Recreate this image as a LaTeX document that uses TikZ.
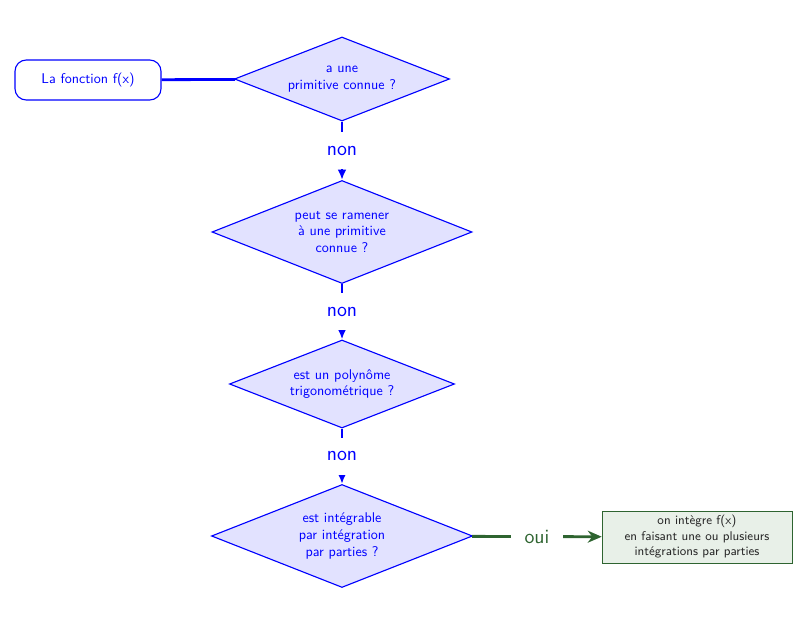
\documentclass[tikz,border=0pt]{standalone}
\usetikzlibrary{shapes.geometric,arrows.meta}
\definecolor{vertfonce}{RGB}{46,100,48}
\definecolor{vertclair}{RGB}{232,240,232}
\definecolor{bleuclair}{RGB}{226,226,255}

\begin{document}
\begin{tikzpicture}[
	debut/.style={draw=blue, thick, rounded corners=0.28cm, text=blue, font=\sffamily, minimum width=3.65cm, minimum height=1cm},
	question/.style={diamond, aspect=2.55, draw=blue, thick, fill=bleuclair, text=blue, font=\sffamily, align=center, inner sep=0pt},
	resultat/.style={draw=vertfonce, fill=vertclair, text=black!85, font=\small\sffamily, align=center, minimum width=4.75cm, minimum height=1.3cm},
	lbl/.style={fill=white, font=\Large\sffamily, inner sep=0.35cm}]
	\useasboundingbox (0,0) rectangle (20,-15.65);

	\node[debut] (fonction) at (2.2,-2) {La fonction f(x)};
	\node[question, minimum width=5.375cm, minimum height=2.1cm] (q1) at (8.55,-1.975) {a une\\ primitive connue ?};
	\node[question, minimum width=6.5cm, minimum height=2.575cm] (q2) at (8.55,-5.8) {peut se ramener\\ à une primitive\\ connue ?};
	\node[question, minimum width=5.625cm, minimum height=2.2cm] (q3) at (8.55,-9.6) {est un polynôme\\ trigonométrique ?};
	\node[question, minimum width=6.525cm, minimum height=2.575cm] (q4) at (8.55,-13.4) {est intégrable\\ par intégration\\ par parties ?};
	\node[resultat] (ipp) at (17.425,-13.425) {on intègre f(x)\\ en faisant une ou plusieurs\\ intégrations par parties};

	\draw[blue, line width=2pt] (fonction) -- (q1);
	\draw[-{Latex[length=2.6mm,width=2.2mm]}, blue, line width=1.6pt] (q1) -- node[lbl, text=blue] {non} (q2);
	\draw[-{Latex[length=2.6mm,width=2.2mm]}, blue, line width=1.6pt] (q2) -- node[lbl, text=blue] {non} (q3);
	\draw[-{Latex[length=2.6mm,width=2.2mm]}, blue, line width=1.6pt] (q3) -- node[lbl, text=blue] {non} (q4);
	\draw[-{Stealth[length=3.5mm,width=3mm]}, vertfonce, line width=2pt] (q4) -- node[lbl, text=vertfonce] {oui} (ipp);
\end{tikzpicture}
\end{document}
